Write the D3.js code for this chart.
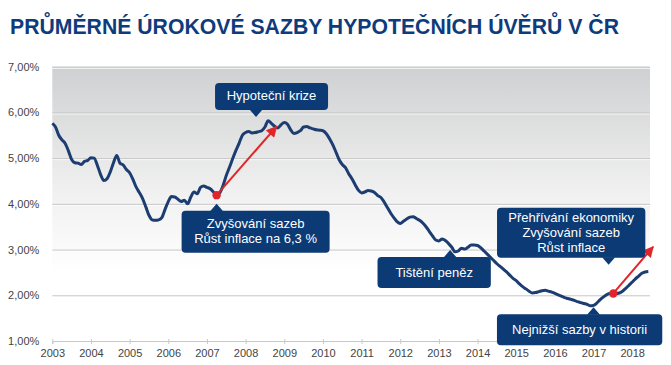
<!DOCTYPE html>
<html lang="cs">
<head>
<meta charset="utf-8">
<script src="https://d3js.org/d3.v7.min.js"></script>
<style>
  body { margin: 0; background: #fff; font-family: 'Liberation Sans', Arial, sans-serif; }
  .title { font-size: 22px; font-weight: bold; fill: #0e3b7b; }
  .axis text { font-size: 11px; fill: #444; font-family: 'Liberation Sans', Arial, sans-serif; }
  .axis path, .axis line { stroke: #c8c8c8; }
  .grid line { stroke: #c6c6c6; }
  .callout text { fill: #fff; font-size: 13px; text-anchor: middle; }
</style>
</head>
<body>
<script>
// monthly average mortgage rate (%), Jan 2003 - Jun 2018
var startYear = 2003;
var rates = [
  5.76,5.68,5.50,5.40,5.32,5.16,4.97,4.90,4.89,4.86,4.93,4.95, // 2003
  5.01,5.00,4.84,4.64,4.51,4.55,4.70,4.90,5.06,4.89,4.85,4.75, // 2004
  4.68,4.54,4.37,4.25,4.12,3.94,3.75,3.65,3.64,3.65,3.70,3.88, // 2005
  4.05,4.16,4.15,4.10,4.05,4.08,4.00,4.15,4.26,4.22,4.36,4.39, // 2006
  4.36,4.33,4.26,4.19,4.24,4.40,4.62,4.80,4.99,5.17,5.33,5.50, // 2007
  5.56,5.58,5.55,5.56,5.58,5.60,5.68,5.82,5.76,5.70,5.66,5.73, // 2008
  5.78,5.74,5.62,5.54,5.56,5.60,5.68,5.69,5.66,5.64,5.62,5.61, // 2009
  5.60,5.54,5.43,5.30,5.14,4.97,4.86,4.79,4.66,4.55,4.42,4.30, // 2010
  4.24,4.26,4.29,4.28,4.25,4.18,4.14,4.04,3.92,3.80,3.70,3.61, // 2011
  3.57,3.62,3.67,3.71,3.72,3.68,3.64,3.58,3.50,3.40,3.30,3.21, // 2012
  3.19,3.23,3.20,3.13,3.05,2.95,2.97,3.03,3.01,3.05,3.10,3.10, // 2013
  3.09,3.04,2.97,2.90,2.83,2.76,2.69,2.63,2.57,2.51,2.44,2.37, // 2014
  2.32,2.25,2.19,2.14,2.09,2.05,2.06,2.08,2.10,2.11,2.09,2.07, // 2015
  2.04,2.01,1.98,1.95,1.93,1.91,1.89,1.86,1.84,1.82,1.80,1.77, // 2016
  1.78,1.83,1.90,1.96,2.01,2.04,2.04,2.04,2.05,2.09,2.15,2.22, // 2017
  2.29,2.36,2.42,2.48,2.51,2.52                                // 2018
];

var yearTicks = [2003,2004,2005,2006,2007,2008,2009,2010,2011,2012,2013,2014,2015,2016,2017,2018];
var rateTicks = [1,2,3,4,5,6,7];

// red arrows: start point (dot) and end point, as [year, rate]
var arrowFrom = [[2007.25, 4.19], [2017.51, 2.04]];
var arrowTo   = [[2008.80, 5.69], [2018.54, 3.06]];

// callouts: text lines and the point the pointer touches
var calloutLines = [
  ["Hypoteční krize"],
  ["Zvyšování sazeb", "Růst inflace na 6,3 %"],
  ["Tištění peněz"],
  ["Přehřívání ekonomiky", "Zvyšování sazeb", "Růst inflace"],
  ["Nejnižší sazby v historii"]
];
var calloutAt = [[2008.27, 5.90], [2007.25, 4.00], [2013.29, 2.99], [2017.39, 2.67], [2017.0, 1.74]];

var W = 671, H = 365;
var margin = {top: 66.7, right: 21, bottom: 24, left: 52.3};

var svg = d3.select("body").append("svg")
    .attr("width", W)
    .attr("height", H);

svg.append("text")
    .attr("class", "title")
    .attr("x", 10)
    .attr("y", 34)
    .attr("textLength", 609)
    .attr("lengthAdjust", "spacingAndGlyphs")
    .text("PRŮMĚRNÉ ÚROKOVÉ SAZBY HYPOTEČNÍCH ÚVĚRŮ V ČR");

var x = d3.scaleLinear()
    .domain([2003, 2018.46])
    .range([margin.left, W - margin.right]);

var y = d3.scaleLinear()
    .domain([1, 7])
    .range([H - margin.bottom, margin.top]);

// background gradient
var defs = svg.append("defs");
var grad = defs.append("linearGradient")
    .attr("id", "bg")
    .attr("x1", 0).attr("y1", 0).attr("x2", 0).attr("y2", 1);
grad.append("stop").attr("offset", "0%").attr("stop-color", "#cfd0d1");
grad.append("stop").attr("offset", "45%").attr("stop-color", "#f0f0f0");
grad.append("stop").attr("offset", "75%").attr("stop-color", "#ffffff");

svg.append("rect")
    .attr("x", x.range()[0])
    .attr("y", y(7))
    .attr("width", x.range()[1] - x.range()[0])
    .attr("height", y(1) - y(7))
    .attr("fill", "url(#bg)");

// grid lines (grey with a white highlight below)
svg.append("g")
    .attr("transform", "translate(" + x.range()[0] + ",1)")
    .call(d3.axisLeft(y).tickValues(rateTicks.slice(1)).tickSize(-(x.range()[1] - x.range()[0])).tickFormat(""))
    .call(g => g.select(".domain").remove())
    .call(g => g.selectAll("line").attr("stroke", "#fff"));

svg.append("g")
    .attr("class", "grid")
    .attr("transform", "translate(" + x.range()[0] + ",0)")
    .call(d3.axisLeft(y).tickValues(rateTicks.slice(1)).tickSize(-(x.range()[1] - x.range()[0])).tickFormat(""))
    .call(g => g.select(".domain").remove());

// y labels
var fmt = d3.formatLocale({decimal: ",", thousands: " ", grouping: [3], currency: ["", ""]}).format(".2f");
svg.append("g")
    .attr("class", "axis")
    .attr("transform", "translate(" + (x.range()[0] - 10) + ",0)")
    .call(d3.axisLeft(y).tickValues(rateTicks).tickSize(0).tickFormat(d => fmt(d) + "%"))
    .call(g => g.select(".domain").remove());

// x axis
svg.append("g")
    .attr("class", "axis")
    .attr("transform", "translate(0," + y(1) + ")")
    .call(d3.axisBottom(x).tickValues(yearTicks).tickSize(3).tickPadding(5).tickFormat(d3.format("d")))
    .call(g => g.selectAll(".tick line").attr("y1", -2));

// series line
var line = d3.line()
    .x((d, i) => x(startYear + i / 12))
    .y(d => y(d))
    .curve(d3.curveMonotoneX);

svg.append("path")
    .datum(rates)
    .attr("fill", "none")
    .attr("stroke", "#1c3d71")
    .attr("stroke-width", 3)
    .attr("stroke-linejoin", "round")
    .attr("d", line);

// red arrows
defs.append("marker")
    .attr("id", "head")
    .attr("viewBox", "0 0 10 10")
    .attr("refX", 9).attr("refY", 5)
    .attr("markerWidth", 6).attr("markerHeight", 5.5)
    .attr("markerUnits", "strokeWidth")
    .attr("orient", "auto")
    .append("path")
    .attr("d", "M0,0L10,5L0,10z")
    .attr("fill", "#e0262a");

arrowFrom.forEach(function(a, i) {
    svg.append("line")
        .attr("x1", x(a[0])).attr("y1", y(a[1]))
        .attr("x2", x(arrowTo[i][0])).attr("y2", y(arrowTo[i][1]))
        .attr("stroke", "#e0262a")
        .attr("stroke-width", 2)
        .attr("marker-end", "url(#head)");
    svg.append("circle")
        .attr("cx", x(a[0])).attr("cy", y(a[1]))
        .attr("r", 4.2)
        .attr("fill", "#e0262a");
});

// callout boxes, relative to the pointer tip
var boxGeom = [
  {dx: -41, w: 113, h: 27, down: false},
  {dx: -35, w: 148, h: 42, down: true},
  {dx: -72.6, w: 113.3, h: 31, down: true},
  {dx: -111.6, w: 148.3, h: 50, down: false},
  {dx: -96.6, w: 165.3, h: 31, down: true}
];
var lineH = 15;

calloutLines.forEach(function(lines, i) {
    var tx = x(calloutAt[i][0]), ty = y(calloutAt[i][1]);
    var g = boxGeom[i];
    var bh = g.h;
    var ph = 7, pw = 6.5;
    var top = g.down ? ty + ph : ty - ph - bh;
    var grp = svg.append("g").attr("class", "callout");
    grp.append("rect")
        .attr("x", tx + g.dx).attr("y", top)
        .attr("width", g.w).attr("height", bh)
        .attr("rx", 4)
        .attr("fill", "#0b3a75");
    var py = g.down ? top + 0.5 : top + bh - 0.5;
    grp.append("path")
        .attr("d", "M" + (tx - pw) + "," + py + "L" + tx + "," + ty + "L" + (tx + pw) + "," + py + "Z")
        .attr("fill", "#0b3a75");
    var cx = tx + g.dx + g.w / 2;
    var firstBase = top + (bh - lines.length * lineH) / 2 + 11.5;
    lines.forEach(function(t, j) {
        grp.append("text")
            .attr("x", cx)
            .attr("y", firstBase + j * lineH)
            .text(t);
    });
});
</script>
</body>
</html>
